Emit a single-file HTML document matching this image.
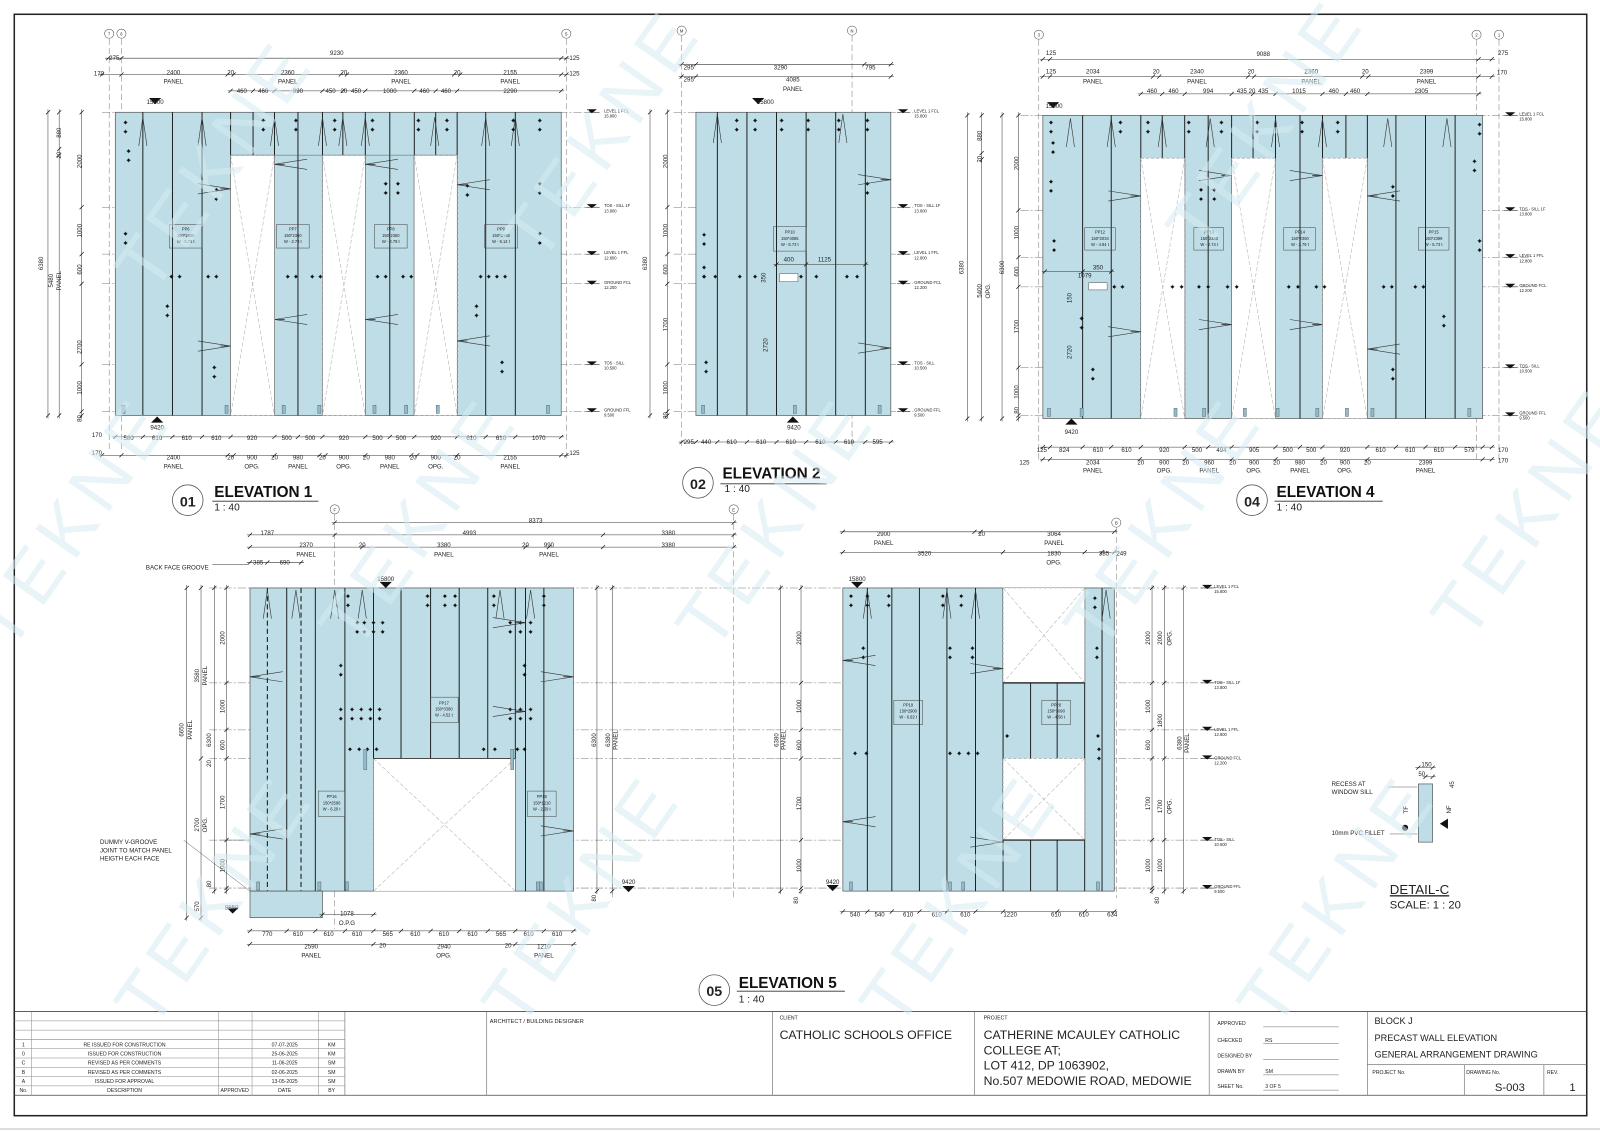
<!DOCTYPE html>
<html><head><meta charset="utf-8"><style>
html,body{margin:0;padding:0;background:#fff}
svg{display:block}
text{font-family:"Liberation Sans",sans-serif;fill:#222}
.d{font-size:6px}
.s{font-size:4px}
.t{font-size:15px;font-weight:bold;fill:#111}
.sc{font-size:10px}
.wm text{font-size:72px;fill:#d6ecf4;opacity:.55;font-weight:normal;letter-spacing:8px}
</style></head><body>
<svg id="s" xmlns="http://www.w3.org/2000/svg" viewBox="0 0 1568 1108" width="1600" height="1131" preserveAspectRatio="none">
<rect x="0" y="0" width="1568" height="1108" fill="#fff"/>
<g id="g"></g>
<g id="txt">
<g class="s" text-anchor="middle">
<text x="107" y="35">7</text><text x="119" y="35">6</text><text x="555" y="35">5</text>
<text x="668" y="32">M</text><text x="835" y="32">N</text>
<text x="1018" y="36">3</text><text x="1447" y="36">2</text><text x="1469" y="36">1</text>
<text x="328" y="501">F</text><text x="719" y="501">E</text><text x="1094" y="514">B</text>
</g>
<g class="d" text-anchor="middle">
<text x="330" y="54">9230</text><text x="112" y="59">275</text><text x="563" y="59">125</text>
<text x="97" y="74">170</text><text x="563" y="74">125</text>
<text x="170" y="73">2400</text><text x="226" y="73">20</text><text x="282" y="73">2360</text><text x="337" y="73">20</text><text x="393" y="73">2360</text><text x="448" y="73">20</text><text x="500" y="73">2155</text>
<text x="170" y="82">PANEL</text><text x="282" y="82">PANEL</text><text x="393" y="82">PANEL</text><text x="500" y="82">PANEL</text>
<text x="237" y="91">460</text><text x="258" y="91">460</text><text x="292" y="91">990</text><text x="324" y="91">450</text><text x="337" y="91">20</text><text x="349" y="91">450</text><text x="382" y="91">1000</text><text x="416" y="91">460</text><text x="437" y="91">460</text><text x="500" y="91">2290</text>
<text x="152" y="102">15800</text><text x="154" y="421">9420</text>
<text x="95" y="428">170</text><text x="95" y="446">170</text><text x="563" y="446">125</text>
<text x="126" y="431">580</text><text x="154" y="431">610</text><text x="183" y="431">610</text><text x="212" y="431">610</text><text x="247" y="431">920</text><text x="281" y="431">500</text><text x="304" y="431">500</text><text x="337" y="431">920</text><text x="370" y="431">500</text><text x="393" y="431">500</text><text x="427" y="431">920</text><text x="462" y="431">610</text><text x="491" y="431">610</text><text x="528" y="431">1070</text>
<text x="170" y="450">2400</text><text x="226" y="450">20</text><text x="247" y="450">900</text><text x="269" y="450">20</text><text x="292" y="450">980</text><text x="316" y="450">20</text><text x="337" y="450">900</text><text x="359" y="450">20</text><text x="382" y="450">980</text><text x="405" y="450">20</text><text x="427" y="450">900</text><text x="448" y="450">20</text><text x="500" y="450">2155</text>
<text x="170" y="459">PANEL</text><text x="247" y="459">OPG.</text><text x="292" y="459">PANEL</text><text x="337" y="459">OPG.</text><text x="382" y="459">PANEL</text><text x="427" y="459">OPG.</text><text x="500" y="459">PANEL</text>
</g>
<g class="d" text-anchor="middle">
<text transform="translate(42,258) rotate(-90)">6380</text><text transform="translate(52,275) rotate(-90)">5480</text><text transform="translate(60,275) rotate(-90)">PANEL</text>
<text transform="translate(60,130) rotate(-90)">880</text><text transform="translate(60,152) rotate(-90)">20</text>
<text transform="translate(80,158) rotate(-90)">2000</text><text transform="translate(80,226) rotate(-90)">1000</text><text transform="translate(80,264) rotate(-90)">600</text><text transform="translate(80,340) rotate(-90)">2700</text><text transform="translate(80,380) rotate(-90)">1000</text><text transform="translate(80,410) rotate(-90)">80</text>
</g>
<g class="d" text-anchor="middle">
<text x="765" y="68">3290</text><text x="853" y="68">795</text><text x="675" y="68">295</text>
<text x="777" y="80">4085</text><text x="777" y="89">PANEL</text><text x="675" y="80">295</text>
<text x="750" y="102">15800</text><text x="778" y="421">9420</text>
<text x="675" y="435">295</text><text x="692" y="435">440</text><text x="717" y="435">610</text><text x="746" y="435">610</text><text x="775" y="435">610</text><text x="804" y="435">610</text><text x="832" y="435">610</text><text x="860" y="435">595</text>
<text x="773" y="256">400</text><text x="808" y="256">1125</text>
</g>
<g class="d" text-anchor="middle">
<text transform="translate(634,258) rotate(-90)">6380</text>
<text transform="translate(654,158) rotate(-90)">2000</text><text transform="translate(654,226) rotate(-90)">1000</text><text transform="translate(654,264) rotate(-90)">600</text><text transform="translate(654,318) rotate(-90)">1700</text><text transform="translate(654,380) rotate(-90)">1000</text><text transform="translate(654,407) rotate(-90)">80</text>
<text transform="translate(750,272) rotate(-90)">350</text><text transform="translate(752,338) rotate(-90)">2720</text>
</g>
<g class="d" text-anchor="middle">
<text x="1238" y="55">9088</text><text x="1030" y="54">125</text><text x="1473" y="54">275</text>
<text x="1030" y="72">125</text><text x="1472" y="73">170</text>
<text x="1071" y="72">2034</text><text x="1133" y="72">20</text><text x="1173" y="72">2340</text><text x="1226" y="72">20</text><text x="1285" y="72">2360</text><text x="1338" y="72">20</text><text x="1398" y="72">2399</text>
<text x="1071" y="82">PANEL</text><text x="1173" y="82">PANEL</text><text x="1285" y="82">PANEL</text><text x="1398" y="82">PANEL</text>
<text x="1129" y="91">460</text><text x="1150" y="91">460</text><text x="1184" y="91">994</text><text x="1217" y="91">435</text><text x="1227" y="91">20</text><text x="1238" y="91">435</text><text x="1273" y="91">1015</text><text x="1307" y="91">460</text><text x="1328" y="91">460</text><text x="1393" y="91">2305</text>
<text x="1033" y="106">15800</text><text x="1050" y="425">9420</text>
<text x="1063" y="272">1079</text><text x="1076" y="264">350</text>
<text x="1021" y="443">125</text><text x="1043" y="443">824</text><text x="1076" y="443">610</text><text x="1104" y="443">610</text><text x="1141" y="443">920</text><text x="1173" y="443">500</text><text x="1197" y="443">494</text><text x="1229" y="443">905</text><text x="1262" y="443">500</text><text x="1285" y="443">500</text><text x="1318" y="443">920</text><text x="1353" y="443">610</text><text x="1382" y="443">610</text><text x="1410" y="443">610</text><text x="1440" y="443">579</text><text x="1473" y="443">170</text>
<text x="1004" y="455">125</text><text x="1071" y="455">2034</text><text x="1118" y="455">20</text><text x="1141" y="455">900</text><text x="1162" y="455">20</text><text x="1185" y="455">960</text><text x="1208" y="455">20</text><text x="1229" y="455">900</text><text x="1251" y="455">20</text><text x="1274" y="455">980</text><text x="1297" y="455">20</text><text x="1318" y="455">900</text><text x="1340" y="455">20</text><text x="1397" y="455">2399</text><text x="1473" y="453">170</text>
<text x="1071" y="463">PANEL</text><text x="1141" y="463">OPG.</text><text x="1185" y="463">PANEL</text><text x="1229" y="463">OPG.</text><text x="1274" y="463">PANEL</text><text x="1318" y="463">OPG.</text><text x="1397" y="463">PANEL</text>
</g>
<g class="d" text-anchor="middle">
<text transform="translate(944,262) rotate(-90)">6380</text><text transform="translate(962,285) rotate(-90)">5400</text><text transform="translate(970,285) rotate(-90)">OPG.</text>
<text transform="translate(962,133) rotate(-90)">880</text><text transform="translate(962,156) rotate(-90)">20</text>
<text transform="translate(998,160) rotate(-90)">2000</text><text transform="translate(998,228) rotate(-90)">1000</text><text transform="translate(998,266) rotate(-90)">600</text><text transform="translate(998,320) rotate(-90)">1700</text><text transform="translate(998,384) rotate(-90)">1000</text><text transform="translate(998,402) rotate(-90)">80</text>
<text transform="translate(984,262) rotate(-90)">6300</text>
<text transform="translate(1050,292) rotate(-90)">150</text><text transform="translate(1050,345) rotate(-90)">2720</text>
</g>
<g class="d" text-anchor="middle">
<text x="525" y="512">8373</text>
<text x="262" y="524">1787</text><text x="460" y="524">4993</text><text x="655" y="524">3380</text>
<text x="300" y="536">2370</text><text x="355" y="536">20</text><text x="435" y="536">3380</text><text x="515" y="536">20</text><text x="538" y="536">990</text><text x="655" y="536">3380</text>
<text x="300" y="545">PANEL</text><text x="435" y="545">PANEL</text><text x="538" y="545">PANEL</text>
<text x="253" y="553">385</text><text x="279" y="553">690</text>
<text x="378" y="569">15800</text>
<text x="262" y="917">770</text><text x="292" y="917">610</text><text x="322" y="917">610</text><text x="350" y="917">610</text><text x="380" y="917">565</text><text x="407" y="917">610</text><text x="435" y="917">610</text><text x="463" y="917">610</text><text x="491" y="917">565</text><text x="518" y="917">610</text><text x="546" y="917">610</text>
<text x="305" y="929">2590</text><text x="375" y="928">20</text><text x="435" y="929">2940</text><text x="498" y="928">20</text><text x="533" y="929">1210</text>
<text x="305" y="938">PANEL</text><text x="435" y="938">OPG.</text><text x="533" y="938">PANEL</text>
<text x="227" y="891">8850</text><text x="340" y="897">1078</text><text x="340" y="906">O.P.G</text><text x="616" y="866">9420</text>
</g>
<g class="d">
<text x="143" y="558">BACK FACE GROOVE</text>
<text x="98" y="827">DUMMY V-GROOVE</text><text x="98" y="835">JOINT TO MATCH PANEL</text><text x="98" y="843">HEIGTH EACH FACE</text>
</g>
<g class="d" text-anchor="middle">
<text transform="translate(180,715) rotate(-90)">6650</text><text transform="translate(188,715) rotate(-90)">PANEL</text>
<text transform="translate(195,662) rotate(-90)">3580</text><text transform="translate(203,662) rotate(-90)">PANEL</text>
<text transform="translate(207,725) rotate(-90)">6300</text><text transform="translate(207,748) rotate(-90)">20</text>
<text transform="translate(195,808) rotate(-90)">2700</text><text transform="translate(203,808) rotate(-90)">OPG.</text>
<text transform="translate(220,625) rotate(-90)">2000</text><text transform="translate(220,692) rotate(-90)">1000</text><text transform="translate(220,730) rotate(-90)">600</text><text transform="translate(220,786) rotate(-90)">1700</text><text transform="translate(220,848) rotate(-90)">1000</text><text transform="translate(207,866) rotate(-90)">80</text><text transform="translate(195,888) rotate(-90)">570</text>
<text transform="translate(584,725) rotate(-90)">6300</text><text transform="translate(598,725) rotate(-90)">6380</text><text transform="translate(605,725) rotate(-90)">PANEL</text>
<text transform="translate(584,880) rotate(-90)">80</text>
</g>
<g class="d" text-anchor="middle">
<text x="866" y="525">2900</text><text x="962" y="525">20</text><text x="1033" y="525">3064</text>
<text x="866" y="534">PANEL</text><text x="1033" y="534">PANEL</text>
<text x="906" y="544">3520</text><text x="1033" y="544">1830</text><text x="1033" y="553">OPG.</text><text x="1082" y="544">385</text><text x="1099" y="544">249</text>
<text x="840" y="569">15800</text><text x="816" y="866">9420</text>
<text x="838" y="898">540</text><text x="862" y="898">540</text><text x="890" y="898">610</text><text x="918" y="898">610</text><text x="946" y="898">610</text><text x="990" y="898">1220</text><text x="1035" y="898">610</text><text x="1062" y="898">610</text><text x="1090" y="898">634</text>
</g>
<g class="d" text-anchor="middle">
<text transform="translate(763,725) rotate(-90)">6380</text><text transform="translate(770,725) rotate(-90)">PANEL</text>
<text transform="translate(785,625) rotate(-90)">2000</text><text transform="translate(785,692) rotate(-90)">1000</text><text transform="translate(785,730) rotate(-90)">600</text><text transform="translate(785,787) rotate(-90)">1700</text><text transform="translate(785,848) rotate(-90)">1000</text><text transform="translate(782,882) rotate(-90)">80</text>
<text transform="translate(1127,625) rotate(-90)">2000</text><text transform="translate(1127,692) rotate(-90)">1000</text><text transform="translate(1127,730) rotate(-90)">600</text><text transform="translate(1127,787) rotate(-90)">1700</text><text transform="translate(1127,848) rotate(-90)">1000</text><text transform="translate(1136,882) rotate(-90)">80</text>
<text transform="translate(1139,625) rotate(-90)">2000</text><text transform="translate(1148,625) rotate(-90)">OPG.</text><text transform="translate(1139,706) rotate(-90)">1800</text><text transform="translate(1139,790) rotate(-90)">1700</text><text transform="translate(1148,790) rotate(-90)">OPG.</text><text transform="translate(1139,848) rotate(-90)">1000</text>
<text transform="translate(1158,728) rotate(-90)">6380</text><text transform="translate(1165,728) rotate(-90)">PANEL</text>
</g>
<g class="s">
<text x="592" y="110">LEVEL 1 FCL</text><text x="592" y="115">15.800</text>
<text x="592" y="203">TOS - SILL 1F</text><text x="592" y="208">13.800</text>
<text x="592" y="249">LEVEL 1 FFL</text><text x="592" y="254">12.800</text>
<text x="592" y="278">GROUND FCL</text><text x="592" y="283">12.200</text>
<text x="592" y="357">TOS - SILL</text><text x="592" y="362">10.500</text>
<text x="592" y="403">GROUND FFL</text><text x="592" y="408">9.500</text>
<text x="896" y="110">LEVEL 1 FCL</text><text x="896" y="115">15.800</text>
<text x="896" y="203">TOS - SILL 1F</text><text x="896" y="208">13.800</text>
<text x="896" y="249">LEVEL 1 FFL</text><text x="896" y="254">12.800</text>
<text x="896" y="278">GROUND FCL</text><text x="896" y="283">12.200</text>
<text x="896" y="357">TOS - SILL</text><text x="896" y="362">10.500</text>
<text x="896" y="403">GROUND FFL</text><text x="896" y="408">9.500</text>
<text x="1489" y="113">LEVEL 1 FCL</text><text x="1489" y="118">15.800</text>
<text x="1489" y="206">TOS - SILL 1F</text><text x="1489" y="211">13.800</text>
<text x="1489" y="252">LEVEL 1 FFL</text><text x="1489" y="257">12.800</text>
<text x="1489" y="281">GROUND FCL</text><text x="1489" y="286">12.200</text>
<text x="1489" y="360">TOS - SILL</text><text x="1489" y="365">10.500</text>
<text x="1489" y="406">GROUND FFL</text><text x="1489" y="411">9.500</text>
<text x="1190" y="576">LEVEL 1 FCL</text><text x="1190" y="581">15.800</text>
<text x="1190" y="670">TOS - SILL 1F</text><text x="1190" y="675">13.800</text>
<text x="1190" y="716">LEVEL 1 FFL</text><text x="1190" y="721">12.800</text>
<text x="1190" y="744">GROUND FCL</text><text x="1190" y="749">12.200</text>
<text x="1190" y="824">TOS - SILL</text><text x="1190" y="829">10.500</text>
<text x="1190" y="870">GROUND FFL</text><text x="1190" y="875">9.500</text>
</g>
<g class="s" text-anchor="middle">
<text x="182" y="226">PP6</text><text x="182" y="232">150*2400</text><text x="182" y="238">W - 5.73 t</text>
<text x="287" y="226">PP7</text><text x="287" y="232">150*2360</text><text x="287" y="238">W - 2.79 t</text>
<text x="383" y="226">PP8</text><text x="383" y="232">150*2360</text><text x="383" y="238">W - 2.79 t</text>
<text x="491" y="226">PP9</text><text x="491" y="232">150*2155</text><text x="491" y="238">W - 5.14 t</text>
<text x="774" y="229">PP10</text><text x="774" y="235">150*4085</text><text x="774" y="241">W - 8.73 t</text>
<text x="1078" y="229">PP12</text><text x="1078" y="235">150*2034</text><text x="1078" y="241">W - 4.84 t</text>
<text x="1185" y="229">PP13</text><text x="1185" y="235">150*2340</text><text x="1185" y="241">W - 2.74 t</text>
<text x="1274" y="229">PP14</text><text x="1274" y="235">150*2360</text><text x="1274" y="241">W - 2.79 t</text>
<text x="1405" y="229">PP15</text><text x="1405" y="235">150*2399</text><text x="1405" y="241">W - 5.73 t</text>
<text x="435" y="690">PP17</text><text x="435" y="696">150*3380</text><text x="435" y="702">W - 4.52 t</text>
<text x="325" y="782">PP16</text><text x="325" y="788">150*2590</text><text x="325" y="794">W - 6.20 t</text>
<text x="531" y="782">PP18</text><text x="531" y="788">150*1210</text><text x="531" y="794">W - 2.59 t</text>
<text x="890" y="692">PP19</text><text x="890" y="698">150*2900</text><text x="890" y="704">W - 6.92 t</text>
<text x="1035" y="692">PP20</text><text x="1035" y="698">150*3090</text><text x="1035" y="704">W - 4.58 t</text>
</g>
<text x="184" y="496" text-anchor="middle" style="font-size:14px;font-weight:bold">01</text>
<text x="210" y="487" class="t">ELEVATION 1</text><text x="210" y="500" class="sc">1 : 40</text>
<text x="684" y="479" text-anchor="middle" style="font-size:14px;font-weight:bold">02</text>
<text x="708" y="469" class="t">ELEVATION 2</text><text x="710" y="482" class="sc">1 : 40</text>
<text x="1227" y="496" text-anchor="middle" style="font-size:14px;font-weight:bold">04</text>
<text x="1251" y="487" class="t">ELEVATION 4</text><text x="1251" y="500" class="sc">1 : 40</text>
<text x="700" y="976" text-anchor="middle" style="font-size:14px;font-weight:bold">05</text>
<text x="724" y="968" class="t">ELEVATION 5</text><text x="724" y="982" class="sc">1 : 40</text>
<g class="d">
<text x="1305" y="770">RECESS AT</text><text x="1305" y="778">WINDOW SILL</text><text x="1305" y="818">10mm PVC FILLET</text>
<text x="1393" y="751">150</text><text x="1390" y="760">50</text>
<text transform="translate(1425,772) rotate(-90)">45</text>
<text transform="translate(1380,797) rotate(-90)">TF</text><text transform="translate(1422,797) rotate(-90)">NF</text>
</g>
<text x="1362" y="876" style="font-size:13px;text-decoration:underline">DETAIL-C</text>
<text x="1362" y="890" style="font-size:11px">SCALE:  1 : 20</text>
<g style="font-size:5px" text-anchor="middle">
<text x="23" y="1025">1</text><text x="122" y="1025">RE ISSUED FOR CONSTRUCTION</text><text x="279" y="1025">07-07-2025</text><text x="325" y="1025">KM</text>
<text x="23" y="1034">0</text><text x="122" y="1034">ISSUED FOR CONSTRUCTION</text><text x="279" y="1034">25-06-2025</text><text x="325" y="1034">KM</text>
<text x="23" y="1043">C</text><text x="122" y="1043">REVISED AS PER COMMENTS</text><text x="279" y="1043">11-06-2025</text><text x="325" y="1043">SM</text>
<text x="23" y="1052">B</text><text x="122" y="1052">REVISED AS PER COMMENTS</text><text x="279" y="1052">02-06-2025</text><text x="325" y="1052">SM</text>
<text x="23" y="1061">A</text><text x="122" y="1061">ISSUED FOR APPROVAL</text><text x="279" y="1061">13-05-2025</text><text x="325" y="1061">SM</text>
<text x="23" y="1070">No.</text><text x="122" y="1070">DESCRIPTION</text><text x="230" y="1070">APPROVED</text><text x="279" y="1070">DATE</text><text x="325" y="1070">BY</text>
</g>
<text x="480" y="1002" style="font-size:5.5px">ARCHITECT / BUILDING DESIGNER</text>
<text x="764" y="999" style="font-size:5px">CLIENT</text>
<text x="764" y="1018" style="font-size:12px">CATHOLIC SCHOOLS OFFICE</text>
<text x="964" y="999" style="font-size:5px">PROJECT</text>
<g style="font-size:12px"><text x="964" y="1018">CATHERINE MCAULEY CATHOLIC</text><text x="964" y="1033">COLLEGE AT;</text><text x="964" y="1048">LOT 412, DP 1063902,</text><text x="964" y="1063">No.507 MEDOWIE ROAD, MEDOWIE</text></g>
<g style="font-size:5px"><text x="1193" y="1004">APPROVED</text><text x="1193" y="1021">CHECKED</text><text x="1193" y="1036">DESIGNED BY</text><text x="1193" y="1051">DRAWN BY</text><text x="1193" y="1066">SHEET No.</text>
<text x="1240" y="1021">RS</text><text x="1240" y="1051">SM</text><text x="1240" y="1066">3 OF 5</text>
<text x="1345" y="1052">PROJECT No.</text><text x="1437" y="1052">DRAWING No.</text><text x="1516" y="1052">REV.</text></g>
<g style="font-size:9px"><text x="1347" y="1003">BLOCK J</text><text x="1347" y="1020">PRECAST WALL ELEVATION</text><text x="1347" y="1036">GENERAL ARRANGEMENT DRAWING</text></g>
<text x="1465" y="1069" style="font-size:11px">S-003</text><text x="1538" y="1069" style="font-size:11px">1</text>
<g class="wm">
<text transform="translate(150,290) rotate(-55)">TEKNE</text>
<text transform="translate(530,260) rotate(-55)">TEKNE</text>
<text transform="translate(1180,250) rotate(-55)">TEKNE</text>
<text transform="translate(10,640) rotate(-55)">TEKNE</text>
<text transform="translate(350,640) rotate(-55)">TEKNE</text>
<text transform="translate(700,640) rotate(-55)">TEKNE</text>
<text transform="translate(1080,640) rotate(-55)">TEKNE</text>
<text transform="translate(1440,630) rotate(-55)">TEKNE</text>
<text transform="translate(150,1010) rotate(-55)">TEKNE</text>
<text transform="translate(510,1010) rotate(-55)">TEKNE</text>
<text transform="translate(880,1010) rotate(-55)">TEKNE</text>
<text transform="translate(1250,1010) rotate(-55)">TEKNE</text>
</g>
</g>
</svg>
<script>
var NS="http://www.w3.org/2000/svg",G=document.getElementById("g");
function E(t,a){var e=document.createElementNS(NS,t);for(var k in a)e.setAttribute(k,a[k]);G.appendChild(e);return e;}
function L(x1,y1,x2,y2,c,w,d){E("line",{x1:x1,y1:y1,x2:x2,y2:y2,stroke:c||"#333","stroke-width":w||0.5,"stroke-dasharray":d||"none"});}
function R(x,y,w,h,f,c,sw,d){E("rect",{x:x,y:y,width:w,height:h,fill:f||"none",stroke:c||"none","stroke-width":sw||0.6,"stroke-dasharray":d||"none"});}
var BLUE="#bedde6";
function panel(x0,x1,y0,y1,j){R(x0,y0,x1-x0,y1-y0,BLUE,"#555",0.7);j.forEach(function(x){L(x,y0,x,y1,"#111",0.9);});}
function opening(x0,x1,y0,y1){R(x0,y0,x1-x0,y1-y0,"#fff","#999",0.6,"3 2");L(x0,y0,x1,y1,"#aaa",0.5,"4 2");L(x1,y0,x0,y1,"#aaa",0.5,"4 2");}
function lev(ys,x0,x1){ys.forEach(function(y){L(x0,y,x1,y,"#777",0.5,"8 2 2 2");});}
function mark(x,ys){ys.forEach(function(y){E("polygon",{points:(x-5)+","+(y-3)+" "+(x+5)+","+(y-3)+" "+x+","+(y+1),fill:"#111"});L(x-6,y,x+7,y,"#111",0.5);});}
function hd(y,xs){L(xs[0]-3,y,xs[xs.length-1]+3,y,"#333",0.5);xs.forEach(function(x){L(x-2,y+2,x+2,y-2,"#111",0.7);});}
function vd(x,ys){L(x,ys[0]-3,x,ys[ys.length-1]+3,"#333",0.5);ys.forEach(function(y){L(x-2,y+2,x+2,y-2,"#111",0.7);});}
function dot(x,y){E("circle",{cx:x,cy:y,r:1.3,fill:"#111"});L(x-2,y,x+2,y,"#111",0.5);L(x,y-2,x,y+2,"#111",0.5);}
function dp(x,y){dot(x,y);dot(x,y+9);}
function lift(x,y){L(x-4,y+28,x,y,"#333",0.6);L(x+4,y+28,x,y,"#333",0.6);}
function brace(x,y,dir){L(x,y,x+dir*32,y-5,"#333",0.6);L(x,y,x+dir*32,y+5,"#333",0.6);L(x,y,x+dir*10,y,"#333",0.8);}
function tri(x,y,up){E("polygon",{points:up?(x-6)+","+(y+6)+" "+(x+6)+","+(y+6)+" "+x+","+y:(x-6)+","+y+" "+(x+6)+","+y+" "+x+","+(y+6),fill:"#111"});}
function ins(x,y){R(x-1.5,y-8,3,8,"#8fbccc","#555",0.4);}
function bub(x,y,y2){E("circle",{cx:x,cy:y,r:4.5,fill:"#fff",stroke:"#444","stroke-width":0.5});L(x,y+5,x,y2,"#777",0.5,"6 3");}
function box(x0,x1,y0,y1){R(x0,y0,x1-x0,y1-y0,"none","#444",0.5);}
R(14,14,1541,1079,"none","#222",1.5);
L(0,1106,1568,1106,"#bbb",1);
bub(107,33,440);bub(119,33,440);bub(555,33,450);
bub(668,30,440);bub(835,30,440);
bub(1018,34,450);bub(1447,34,450);bub(1469,34,450);
bub(328,499,910);bub(719,499,880);bub(1094,512,880);
lev([110,203,249,278,357,403],100,590);
panel(113,550,110,407,[140,169,198,226,248,269,292,316,336,358,382,406,427,448,476,505]);
[[226,269],[316,358],[406,448]].forEach(function(o){opening(o[0],o[1],152,407);});
L(226,152,448,152,"#555",0.5);
mark(580,[110,203,249,278,357,403]);
hd(57,[106,119,550,555]);hd(73,[100,119,223,229,334,340,445,451,550,555]);hd(89,[226,248,269,316,336,358,406,427,448,550]);
hd(428,[113,140,169,198,226,269,292,316,358,382,406,448,476,505,550]);hd(446,[100,119,223,229,269,313,319,358,403,409,448,550,555]);
vd(47,[110,407]);vd(58,[110,146,152,407]);vd(80,[110,203,249,278,357,403,407]);
[[140,115],[198,115],[269,115],[316,115],[358,115],[476,115],[505,115],[426,115],[336,115]].forEach(function(p){lift(p[0],p[1]);});
dp(123,120);dp(126,148);dp(123,229);dp(212,186);dp(210,360);dp(378,180);dp(390,180);dp(458,182);dp(529,180);dp(529,229);dp(258,118);dp(290,118);dp(328,118);dp(365,118);dp(410,118);dp(438,118);dp(503,118);dp(529,118);dp(164,300);dp(467,300);dp(492,355);
[168,176,204,212,282,290,306,314,370,378,395,403,471,479,487,495].forEach(function(x){dot(x,271);});
brace(226,185,-1);brace(226,339,-1);brace(269,161,1);brace(269,313,1);brace(358,161,1);brace(358,313,1);brace(448,181,1);brace(448,334,1);
[121,222,278,313,367,398,429,537].forEach(function(x){ins(x,405);});
tri(152,96,false);tri(154,408,true);
box(166,198,220,243);box(271,303,220,243);box(367,399,220,243);box(475,507,220,243);
E("circle",{cx:184,cy:490,r:15,fill:"#fff",stroke:"#444","stroke-width":0.7});L(208,491,312,491,"#333",0.8);
lev([110,203,249,278,357,403],660,895);
panel(682,873,110,407,[703,732,761,790,819,848]);
mark(885,[110,203,249,278,357,403]);
hd(63,[668,682,847,873]);hd(75,[668,682,873]);hd(433,[668,682,703,732,761,790,819,848,873]);
hd(259,[761,790,848]);
vd(637,[110,407]);vd(654,[110,203,249,278,357,403,407]);
[[703,112],[826,112]].forEach(function(p){lift(p[0],p[1]);});
[722,740,766,792,822,850].forEach(function(x){dp(x,118);});
dp(690,230);dp(690,262);dp(692,355);dp(850,180);
[690,701,725,740,785,800,830,840].forEach(function(x){dot(x,271);});
brace(873,176,-1);brace(873,341,-1);
R(764,268,18,8,"#fff","#555",0.5);
[689,779,862].forEach(function(x){ins(x,405);});
tri(743,96,false);tri(777,408,true);
box(758,790,222,246);
E("circle",{cx:684,cy:473,r:15,fill:"#fff",stroke:"#444","stroke-width":0.7});L(706,474,810,474,"#333",0.8);
lev([113,206,252,281,360,407],1000,1500);
panel(1022,1453,113,410,[1061,1089,1118,1139,1161,1184,1207,1228,1250,1274,1296,1319,1340,1368,1397,1426]);
[[1118,1161],[1207,1250],[1296,1340]].forEach(function(o){opening(o[0],o[1],155,410);});
mark(1480,[113,206,252,281,360,407]);
hd(58,[1022,1029,1449,1462]);hd(75,[1022,1029,1130,1136,1223,1229,1335,1341,1449,1462]);hd(92,[1118,1139,1161,1207,1228,1250,1296,1319,1340,1449]);
hd(438,[1022,1029,1061,1089,1118,1161,1184,1207,1250,1274,1296,1340,1368,1397,1426,1453,1462]);hd(450,[1022,1029,1117,1161,1207,1250,1296,1340,1453,1462]);
vd(948,[113,410]);vd(962,[113,150,156,410]);vd(982,[113,410]);vd(998,[113,206,252,281,360,407,410]);
hd(266,[1024,1061,1089]);
[1089,1139,1186,1250,1296,1360,1418,1049].forEach(function(x){lift(x,116);});
dp(1030,120);dp(1032,140);dp(1030,178);dp(1033,236);dp(1098,120);dp(1125,120);dp(1165,120);dp(1197,120);dp(1232,120);dp(1276,120);dp(1311,120);dp(1450,122);dp(1445,158);dp(1450,236);dp(1177,186);dp(1190,186);dp(1060,312);dp(1071,362);dp(1365,183);dp(1365,362);dp(1415,310);
[1092,1100,1149,1158,1175,1184,1203,1212,1263,1272,1290,1298,1356,1364,1387,1395].forEach(function(x){dot(x,281);});
brace(1118,192,-1);brace(1118,325,-1);brace(1207,172,-1);brace(1207,318,-1);brace(1296,172,-1);brace(1296,318,-1);brace(1340,192,1);brace(1340,342,1);
R(1067,277,18,7,"#fff","#555",0.5);
[1028,1060,1152,1180,1220,1252,1291,1320,1345,1440].forEach(function(x){ins(x,408);});
tri(1032,100,false);tri(1050,410,true);
box(1063,1093,223,245);box(1170,1199,223,245);box(1258,1289,223,245);box(1390,1420,223,245);
E("circle",{cx:1227,cy:490,r:15,fill:"#fff",stroke:"#444","stroke-width":0.7});L(1249,491,1355,491,"#333",0.8);
lev([576,669,715,743,823,870],205,760);
panel(245,562,576,873,[281,309,338,366,393,422,450,478,505,515,533]);
opening(366,505,743,873);L(366,743,505,743,"#333",0.8);
L(262,576,262,873,"#111",1,"5 3");L(295,576,295,873,"#111",1,"5 3");
R(245,873,71,26,BLUE,"#555",0.7);
L(600,576,600,880,"#777",0.5,"6 3");
hd(512,[328,719]);hd(524,[245,328,591,719]);hd(536,[245,355,515,538,591,719]);hd(551,[245,262,295]);L(208,553,243,553,"#333",0.5);
hd(912,[245,281,309,338,366,393,422,450,478,505,533,562]);hd(925,[245,366,505,562]);hd(896,[316,366]);
vd(183,[576,899]);vd(197,[576,743,899]);vd(210,[576,873]);vd(222,[576,669,715,743,823,870,873]);vd(585,[576,873]);vd(600,[576,873]);
[262,290,328,355,490,520].forEach(function(x){lift(x,578);});
dp(341,584);dp(350,610);dp(357,610);dp(366,610);dp(375,610);dp(334,652);dp(334,695);dp(345,695);dp(354,695);dp(363,695);dp(372,695);dp(419,584);dp(436,584);dp(446,584);dp(484,584);dp(500,610);dp(510,610);dp(520,610);dp(500,695);dp(510,695);dp(520,695);dp(533,584);dp(514,652);
[343,352,360,369,474,485,507,514].forEach(function(x){dot(x,734);});
brace(245,663,1);brace(245,817,1);brace(515,610,-1);brace(515,697,-1);brace(562,663,-1);brace(562,814,-1);
[358,502].forEach(function(x){R(x-1.5,734,3,20,"#8fbccc","#555",0.4);});
[340,527,530,253,313].forEach(function(x){ins(x,872);});
tri(378,570,false);tri(228,889,false);tri(616,868,false);
L(215,823,245,823,"#333",0.4);L(180,823,245,873,"#333",0.4);
box(422,449,683,708);box(312,338,775,800);box(517,545,775,800);
E("circle",{cx:700,cy:970,r:15,fill:"#fff",stroke:"#444","stroke-width":0.7});L(722,971,828,971,"#333",0.8);
lev([576,669,715,743,823,870],760,1200);
R(826,576,266,297,BLUE,"#555",0.7);
[850,874,901,928,956,983].forEach(function(x){L(x,576,x,873,"#111",0.9);});
L(1063,576,1063,873,"#111",0.9);L(1080,576,1080,873,"#111",0.9);
opening(983,1063,576,669);opening(983,1063,743,823);
L(983,669,1063,669,"#333",1.4);L(983,823,1063,823,"#333",1.4);
[1010,1036].forEach(function(x){L(x,669,x,743,"#111",0.9);L(x,823,x,873,"#111",0.9);});
mark(1183,[576,669,715,743,823,870]);
hd(521,[826,955,961,1092]);hd(541,[826,983,1063,1080,1092]);hd(893,[826,850,874,901,928,956,983,1036,1063,1092]);
vd(765,[576,873]);vd(785,[576,669,715,743,823,870,873]);vd(1129,[576,669,715,743,823,870,873]);vd(1141,[576,669,743,823,873]);vd(1160,[576,873]);
[850,928,956,1084].forEach(function(x){lift(x,578);});
dp(834,584);dp(850,584);dp(871,584);dp(924,584);dp(942,584);dp(1073,586);dp(931,635);dp(953,635);dp(1075,635);dp(846,635);
[838,849,931,940,949,958].forEach(function(x){dot(x,738);});dot(987,721);dot(1076,721);dp(1077,734);
brace(826,647,1);brace(826,805,1);brace(983,655,-1);brace(983,825,-1);
[834,931,944,1076].forEach(function(x){ins(x,872);});
tri(840,570,false);tri(816,867,false);
box(876,904,686,710);box(1021,1049,686,710);
R(1390,768,14,57,BLUE,"#444",0.6);E("circle",{cx:1377,cy:811,r:3,fill:"#111"});
E("polygon",{points:"1411,807 1419,802 1419,812",fill:"#111"});
L(1360,771,1389,771,"#333",0.4);L(1362,817,1389,817,"#333",0.4);hd(752,[1390,1404]);hd(761,[1397,1404]);
L(14,991,1555,991,"#444",0.8);L(14,1073,1555,1073,"#444",0.8);
[338,477,757,955,1185,1340].forEach(function(x){L(x,991,x,1073,"#666",0.6);});
[31,214,247,312].forEach(function(x){L(x,991,x,1073,"#888",0.5);});
for(var i=1;i<9;i++){L(14,991+i*9.1,338,991+i*9.1,"#888",0.5);}
[1006,1022,1038,1053,1068].forEach(function(y){L(1238,y,1312,y,"#666",0.5);});
L(1340,1043,1555,1043,"#666",0.6);L(1435,1043,1435,1073,"#666",0.6);L(1513,1043,1513,1073,"#666",0.6);
</script>
</body></html>
